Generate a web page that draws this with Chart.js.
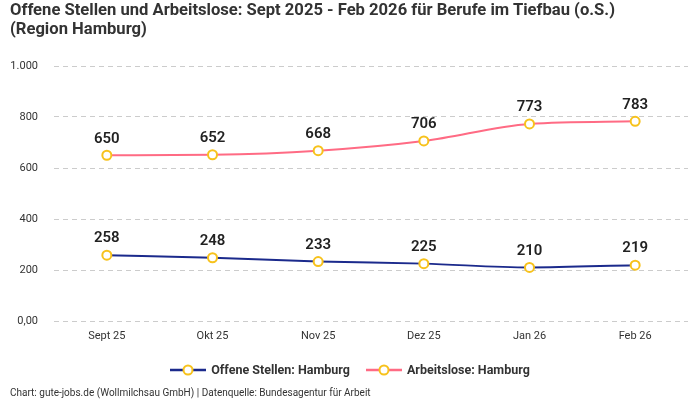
<!DOCTYPE html>
<html>
<head>
<meta charset="utf-8">
<script src="https://cdn.jsdelivr.net/npm/chart.js@4.4.1/dist/chart.umd.min.js"></script>
<style>
  body { margin: 0; background: #fff; font-family: Roboto, "Noto Sans", sans-serif; color: #333; }
  #wrap { position: relative; width: 700px; height: 400px; overflow: hidden; }
  #chart { position: absolute; left: 0; top: 0; }
  #title { position: absolute; left: 10px; top: 0px; font-size: 16.6px; font-weight: bold; line-height: 19px; color: #333; }
  #legend { position: absolute; left: 0; width: 700px; top: 362px; text-align: center; font-size: 12.5px; font-weight: bold; color: #333; }
  .item { display: inline-flex; align-items: center; margin: 0 8px; }
  .item svg { margin-right: 5px; }
  #footer { position: absolute; left: 10px; top: 387px; font-size: 10px; color: #333; }
</style>
</head>
<body>
<div id="wrap">
  <canvas id="chart" width="700" height="400"></canvas>
  <div id="title">Offene Stellen und Arbeitslose: Sept 2025 - Feb 2026 für Berufe im Tiefbau (o.S.)<br>(Region Hamburg)</div>
  <div id="legend"></div>
  <div id="footer">Chart: gute-jobs.de (Wollmilchsau GmbH) | Datenquelle: Bundesagentur für Arbeit</div>
</div>
<script>
// chart data
const months = ['Sept 25', 'Okt 25', 'Nov 25', 'Dez 25', 'Jan 26', 'Feb 26'];
const offeneStellen = [258, 248, 233, 225, 210, 219];
const arbeitslose = [650, 652, 668, 706, 773, 783];
const seriesNames = ['Offene Stellen: Hamburg', 'Arbeitslose: Hamburg'];
const seriesColors = ['#1b2a8c', '#ff6b84'];
const yTicks = [0, 200, 400, 600, 800, 1000];
const pointYellow = '#f7c21c';

// Werte über die Punkte schreiben
const valueLabels = {
  id: 'valueLabels',
  afterDatasetsDraw(chart) {
    const ctx = chart.ctx;
    ctx.save();
    ctx.font = '600 15px Roboto, "Noto Sans", sans-serif';
    ctx.fillStyle = '#222';
    ctx.textAlign = 'center';
    ctx.textBaseline = 'bottom';
    chart.data.datasets.forEach(function(ds, i) {
      chart.getDatasetMeta(i).data.forEach(function(pt, j) {
        ctx.fillText(ds.data[j], pt.x, pt.y - 9);
      });
    });
    ctx.restore();
  }
};

const ctx = document.getElementById('chart').getContext('2d');
const chart = new Chart(ctx, {
  type: 'line',
  data: {
    labels: months,
    datasets: [
      { label: seriesNames[0], data: offeneStellen, borderColor: seriesColors[0] },
      { label: seriesNames[1], data: arbeitslose, borderColor: seriesColors[1] }
    ].map(function(ds) {
      return Object.assign(ds, {
        borderWidth: 2,
        cubicInterpolationMode: 'monotone',
        pointRadius: 4.5,
        pointBorderWidth: 2,
        pointBackgroundColor: '#fff',
        pointBorderColor: pointYellow
      });
    })
  },
  options: {
    responsive: false,
    animation: false,
    layout: { padding: { top: 66, left: 10, right: 12, bottom: 49 } },
    plugins: {
      legend: { display: false },
      tooltip: { enabled: false }
    },
    scales: {
      x: {
        offset: true,
        grid: { display: false, drawTicks: false },
        border: { display: false },
        ticks: { padding: 9, color: '#333', font: { size: 11, family: 'Roboto, "Noto Sans", sans-serif' } },
        afterFit: function(s) { s.height = 30; }
      },
      y: {
        min: 0,
        max: 1000,
        afterBuildTicks: function(s) { s.ticks = yTicks.map(function(v) { return { value: v }; }); },
        grid: { color: '#cccccc', drawTicks: false },
        border: { display: false, dash: [5, 4] },
        ticks: {
          padding: 16,
          color: '#333',
          font: { size: 11, family: 'Roboto, "Noto Sans", sans-serif' },
          callback: function(v) { return v === 0 ? '0,00' : v.toLocaleString('de-DE'); }
        },
        afterFit: function(s) { s.width = 44; }
      }
    }
  },
  plugins: [valueLabels]
});

// Legende als HTML
const legend = document.getElementById('legend');
seriesNames.forEach(function(name, i) {
  const item = document.createElement('span');
  item.className = 'item';
  item.innerHTML = '<svg width="36" height="12"><line x1="0" y1="6" x2="36" y2="6" stroke="' + seriesColors[i] +
    '" stroke-width="2.5"/><circle cx="18" cy="6" r="4.5" fill="#fff" stroke="' + pointYellow + '" stroke-width="2"/></svg>' + name;
  legend.append(item);
});
</script>
</body>
</html>
